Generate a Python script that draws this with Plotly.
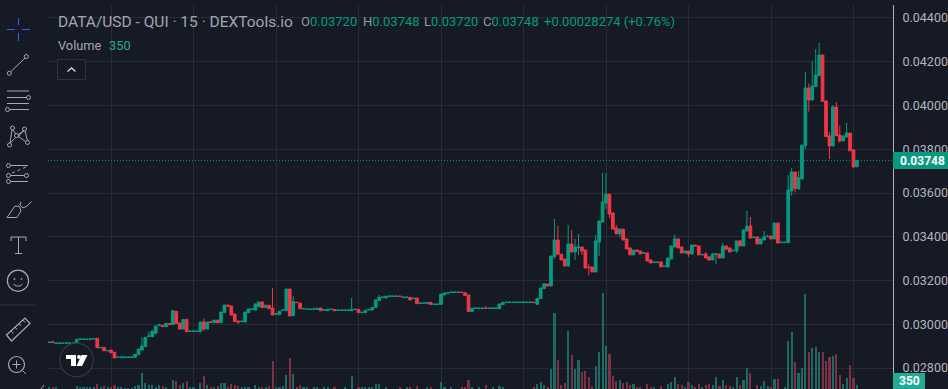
import plotly.graph_objects as go

# prices in units of 0.00001
opens_e5 = [
 2916,2920,2912,2912,2913,2913,2913,2913,2916,2931,
 2931,2931,2931,2932,2936,2892,2894,2878,2882,2872,
 2848,2848,2848,2848,2848,2849,2861,2882,2898,2944,
 2943,2958,2994,2995,2989,3004,2998,3059,3006,2978,
 3022,2967,2967,2967,2966,3010,2978,3011,3007,3019,
 3007,3053,3088,3083,3047,3015,3012,3010,3053,3068,
 3065,3080,3102,3076,3087,3074,3046,3044,3063,3062,
 3161,3039,3101,3097,3070,3068,3068,3068,3068,3074,
 3064,3062,3067,3068,3063,3063,3063,3063,3062,3067,
 3068,3053,3053,3065,3065,3076,3108,3122,3120,3127,
 3127,3127,3129,3122,3122,3123,3118,3120,3095,3095,
 3094,3100,3090,3090,3091,3134,3142,3145,3145,3145,
 3147,3144,3134,3058,3072,3072,3072,3074,3072,3072,
 3072,3071,3090,3099,3099,3099,3099,3099,3099,3099,
 3099,3101,3091,3117,3163,3184,3175,3309,3385,3320,
 3298,3266,3367,3330,3351,3353,3339,3261,3262,3239,
 3376,3467,3554,3595,3509,3440,3413,3435,3390,3349,
 3317,3339,3335,3325,3326,3294,3282,3282,3285,3264,
 3262,3298,3353,3390,3353,3326,3335,3321,3362,3358,
 3317,3321,3308,3294,3320,3321,3303,3358,3349,3336,
 3335,3381,3358,3426,3449,3396,3399,3367,3385,3400,
 3403,3390,3463,3373,3373,3373,3609,3696,3618,3664,
 3816,4080,4025,4086,4136,4231,4021,3861,3815,3993,
 3865,3838,3856,3874,3797,3720,
]
closes_e5 = [
 2918,2917,2914,2914,2914,2914,2914,2914,2931,2932,
 2932,2932,2932,2935,2893,2894,2879,2880,2870,2846,
 2850,2850,2850,2850,2850,2862,2887,2901,2940,2946,
 2968,2992,2996,2989,3004,2998,3062,3003,2978,3022,
 2966,2969,2969,2969,3010,2978,3010,3009,3019,3007,
 3056,3088,3083,3042,3012,3010,3014,3056,3070,3070,
 3093,3102,3076,3087,3071,3042,3048,3059,3065,3161,
 3038,3103,3099,3071,3072,3069,3069,3069,3073,3062,
 3066,3068,3069,3062,3065,3065,3065,3065,3068,3069,
 3053,3055,3064,3068,3077,3111,3123,3124,3128,3129,
 3129,3129,3127,3124,3124,3111,3119,3094,3097,3097,
 3100,3090,3092,3092,3138,3143,3144,3147,3147,3147,
 3145,3131,3058,3073,3074,3074,3074,3072,3074,3074,
 3074,3093,3100,3101,3101,3101,3101,3101,3101,3101,
 3101,3099,3118,3166,3184,3175,3312,3385,3320,3294,
 3266,3367,3330,3353,3353,3335,3257,3259,3239,3381,
 3472,3559,3595,3504,3435,3413,3435,3385,3344,3317,
 3339,3333,3321,3327,3289,3280,3284,3284,3262,3266,
 3303,3358,3390,3349,3326,3335,3321,3362,3358,3317,
 3319,3303,3294,3321,3322,3303,3358,3344,3330,3338,
 3381,3358,3431,3449,3394,3398,3367,3390,3399,3402,
 3390,3463,3371,3375,3375,3614,3696,3621,3670,3819,
 4080,4025,4089,4139,4231,4019,3858,3815,3993,3862,
 3838,3861,3874,3793,3719,3748,
]
# wick ends that extend past the candle body: candle number -> price
high_wicks_e5 = {
 27:2940,29:2965,30:2974,32:3004,45:3027,65:3166,71:3129,77:3076,88:3120,96:3134,
 127:3083,144:3189,147:3481,148:3449,151:3454,152:3431,153:3390,154:3413,157:3275,
 159:3408,161:3692,162:3692,165:3454,182:3408,191:3330,193:3326,194:3326,196:3371,
 201:3385,203:3518,204:3490,208:3426,209:3408,215:3682,216:3714,218:3701,220:4153,
 221:4101,222:4203,223:4258,224:4286,227:3879,228:4002,229:4016,230:3908,232:3920,
}
low_wicks_e5 = {
 32:2992,45:2971,55:3001,142:3088,147:3298,153:3294,154:3317,155:3317,157:3225,
 160:3312,162:3527,163:3486,166:3399,171:3330,186:3308,192:3289,194:3275,197:3339,
 200:3326,216:3588,217:3602,220:3801,221:3972,227:3755,230:3830,234:3716,
}
volumes = [
 88,88,88,0,0,0,0,0,263,146,
 146,88,88,175,438,88,263,88,204,321,
 117,88,29,29,29,233,350,1400,496,350,
 321,204,350,233,88,0,758,700,379,554,
 700,88,88,0,496,1138,321,88,204,263,
 525,496,88,438,350,263,204,88,204,0,
 321,204,204,88,233,2450,204,204,263,1254,
 2713,1342,204,321,204,88,0,204,88,0,
 146,88,0,204,0,0,88,0,1138,0,
 175,88,175,117,175,438,438,0,175,0,
 0,0,88,0,88,175,0,263,0,0,
 175,175,0,0,613,175,0,175,0,0,
 88,175,788,175,0,88,0,350,0,88,
 0,263,175,0,0,0,0,0,0,0,
 0,88,438,613,350,175,1750,6650,2538,350,
 525,5075,2975,1750,2538,1488,1575,1050,263,2013,
 3238,8400,3763,3063,1138,700,788,525,613,350,
 438,175,175,0,438,175,88,0,263,0,
 438,613,1050,438,350,175,613,321,175,438,
 88,350,438,350,1050,263,788,350,263,88,
 1050,350,788,1838,1400,0,350,263,700,263,
 175,875,875,0,88,4200,4988,2363,1400,1838,
 8313,3238,3588,3675,3238,3238,2450,2800,2888,3063,
 1225,438,963,2100,963,350,
]
candle_numbers = list(range(len(opens_e5)))
grid_candles = [18, 42, 66, 90, 114, 138, 162, 186, 210, 234]
price_ticks = [0.028, 0.030, 0.032, 0.034, 0.036, 0.038, 0.040, 0.042, 0.044]
last_price = 0.03748
last_volume = 350

assert len(opens_e5) == len(closes_e5) == len(volumes) == 236, (len(opens_e5), len(closes_e5), len(volumes))

opens = [v / 1e5 for v in opens_e5]
closes = [v / 1e5 for v in closes_e5]
highs = [max(o, c) for o, c in zip(opens, closes)]
lows = [min(o, c) for o, c in zip(opens, closes)]
for k, v in high_wicks_e5.items():
    highs[k] = v / 1e5
for k, v in low_wicks_e5.items():
    lows[k] = v / 1e5

BG = "#161a25"
GRID = "#272b37"
UP = "#089981"
DOWN = "#f23645"
TXT = "#b2b5be"
ICON = "#a6a9b2"
W, H = 948, 389
FONT = "Roboto, sans-serif"
L, R, T, B = 48, 55, 5, 0
PW, PH = W - L - R, H - T - B

vol_colors = ["#1d6a63" if c >= o else "#7c3145" for o, c in zip(opens, closes)]

fig = go.Figure()
fig.add_trace(go.Bar(x=candle_numbers, y=volumes, marker=dict(color=vol_colors, line_width=0),
                     width=0.62, yaxis="y", hoverinfo="skip", showlegend=False))
fig.add_trace(go.Candlestick(
    x=candle_numbers, open=opens, high=highs, low=lows, close=closes, yaxis="y2",
    increasing=dict(line=dict(color=UP, width=1), fillcolor=UP),
    decreasing=dict(line=dict(color=DOWN, width=1), fillcolor=DOWN),
    whiskerwidth=0, hoverinfo="skip", showlegend=False))


shapes = []


def line(x0, y0, x1, y1, color=ICON, width=1, dash=None):
    shapes.append(dict(xref="paper", yref="paper", type="line", x0=(x0 - L) / PW, x1=(x1 - L) / PW,
                       y0=1 - (y0 - T) / PH, y1=1 - (y1 - T) / PH,
                       line=dict(color=color, width=width, dash=dash), layer="above"))


def circ(cx, cy, r, color=ICON, fill=None, width=1):
    shapes.append(dict(xref="paper", yref="paper", type="circle", x0=(cx - r - L) / PW, x1=(cx + r - L) / PW,
                       y0=1 - (cy - r - T) / PH, y1=1 - (cy + r - T) / PH,
                       line=dict(color=color, width=width), fillcolor=fill or "rgba(0,0,0,0)", layer="above"))


def poly(pts, color="rgba(0,0,0,0)", fill=None, width=1, close=True):
    d = "M" + " L".join(f"{(x - L) / PW:.5f},{1 - (y - T) / PH:.5f}" for x, y in pts) + (" Z" if close else "")
    shapes.append(dict(xref="paper", yref="paper", type="path", path=d, line=dict(color=color, width=width),
                       fillcolor=fill or "rgba(0,0,0,0)", layer="above"))


def rect(x0, y0, x1, y1, fill, color=None, width=0):
    shapes.append(dict(xref="paper", yref="paper", type="rect", x0=(x0 - L) / PW, x1=(x1 - L) / PW,
                       y0=1 - (y0 - T) / PH, y1=1 - (y1 - T) / PH,
                       line=dict(color=color or fill, width=width), fillcolor=fill, layer="above"))


# crosshair tool
BLUE = "#2962ff"
line(7, 29.5, 15, 29.5, BLUE); line(22, 29.5, 30, 29.5, BLUE)
line(18.5, 18, 18.5, 25, BLUE); line(18.5, 33, 18.5, 41, BLUE)
# trend line
circ(9.3, 73.3, 2); circ(26.3, 56.5, 2); line(11, 71.5, 25, 58)
# parallel lines
line(7, 91, 29, 91); line(7, 97.5, 26.5, 97.5); circ(28.5, 97.5, 2)
line(7, 103.5, 29, 103.5); line(9.5, 109.5, 29, 109.5); circ(7.5, 109.5, 2)
# pattern
for c in [(12.5, 128), (24.5, 129), (16.5, 135.5), (9.5, 145), (27.5, 142.5)]:
    circ(c[0], c[1], 2)
line(12, 130, 10, 143); line(13, 130, 16, 134); line(24, 131, 18, 134.5)
line(25, 131, 27.5, 140.5); line(18.5, 136.5, 25.5, 141.5); line(15.5, 137.5, 10.5, 143)
line(18, 137.5, 23, 130.5)
# forecast
line(10.5, 165.5, 28, 165.5); circ(8.5, 165.5, 2)
line(10.5, 175.5, 24.5, 175.5); circ(8.5, 175.5, 2); circ(26.5, 175.5, 2)
line(10.5, 181.5, 28, 181.5); circ(8.5, 181.5, 2)
line(12, 173, 26, 167, dash="dot")
# brush
poly([(7, 217.5), (17, 217.5), (21, 211), (19.5, 206.5), (15, 206), (7, 217.5)], color=ICON)
poly([(21, 202), (20, 205), (23, 208), (27, 206), (31.5, 201.5)], color=ICON, close=False)
# T tool
line(11, 237, 26, 237); line(18.5, 237, 18.5, 253.5); line(15, 253.5, 22, 253.5)
line(11, 237, 11, 241); line(26, 237, 26, 241)
# smiley
circ(18, 280.7, 10.6, width=1.2); circ(14.5, 279, 0.6); circ(21.5, 279, 0.6)
poly([(13.5, 284), (16, 286), (20, 286), (22.5, 284)], color=ICON, close=False)
# separator
line(0, 305, 36, 305, color="#2e323e")
# ruler
poly([(6.5, 335), (25, 318), (30, 323.5), (11.5, 341)], color=ICON, width=1.2)
for a, b in [((11, 331), (13.5, 333.5)), ((15, 327), (17, 329.5)), ((19, 323.5), (21, 326)), ((23, 320), (25, 322.5))]:
    line(a[0], a[1], b[0], b[1])
# zoom tool
circ(16.5, 364.5, 8, width=1.2); line(12.5, 364.5, 20.5, 364.5); line(16.5, 360.5, 16.5, 368.5)
line(22.5, 370.5, 26, 374)
line(41, 389, 44, 385)
# collapse button
rect(57.5, 59.5, 85.5, 79.5, BG, "#2e323e", 1)
poly([(67.5, 71.5), (71.5, 68), (75.5, 71.5)], color="#d1d4dc", width=1.4, close=False)
# TradingView badge
circ(76.5, 360, 16.8, color="#363a45", fill=BG, width=1.2)
poly([(66, 355), (76, 355), (76, 366), (71, 366), (71, 359), (66, 359)], fill="#ffffff", width=0)
circ(79, 357, 2, color="#ffffff", fill="#ffffff", width=0)
poly([(81.5, 355), (87.5, 355), (82, 366), (76.5, 366)], fill="#ffffff", width=0)
# last price line
shapes.append(dict(type="line", xref="paper", x0=0, x1=1, yref="y2", y0=last_price, y1=last_price,
                   line=dict(color=UP, width=1, dash="1px,2px"), layer="above"))
# price labels
rect(893, 152, 948, 169, UP)
rect(893, 373, 925, 389, "#22ab94")


def text(x, y, s, size=13, color=TXT, anchor="left", bold=False):
    return dict(xref="paper", yref="paper", x=(x - L) / PW, y=1 - (y - T) / PH, text=s, showarrow=False,
                xanchor=anchor, yanchor="middle", align=anchor, borderpad=0,
                font=dict(family=FONT, size=size, color=color, weight=700 if bold else 400))


def seg(label, value):
    return f'<span style="color:#9598a1">{label}</span><span style="color:{UP}">{value}</span>'


annotations = [
    text(57, 21.5, "DATA/USD - QUI · 15 · DEXTools.io", size=15.5, color="#a3a6af"),
    text(300, 21.5, seg("O", "0.03720"), size=13),
    text(361.5, 21.5, seg("H", "0.03748"), size=13),
    text(423, 21.5, seg("L", "0.03720"), size=13),
    text(482, 21.5, seg("C", "0.03748"), size=13),
    text(543, 21.5, seg("", "+0.00028274 (+0.76%)"), size=13),
    text(57, 45.5, "Volume", size=12.8, color="#a3a6af"),
    text(108, 45.5, f"{last_volume}", size=12.8, color="#22ab94"),
    text(922, 161, f"{last_price:.5f}", size=12, color="#ffffff", anchor="center", bold=True),
    text(909, 381, f"{last_volume}", size=12, color="#ffffff", anchor="center", bold=True),
]

# candle number range placed so that grid lines land on the reference positions
x0 = 18 + (48 - 111.0) / 3.4375
x1 = 18 + (893 - 111.0) / 3.4375

fig.update_layout(
    width=W, height=H, autosize=False,
    margin=dict(l=L, r=R, t=T, b=B, pad=0),
    paper_bgcolor=BG, plot_bgcolor=BG,
    showlegend=False, bargap=0, boxgap=0.18, boxgroupgap=0.05, hovermode=False,
    font=dict(family=FONT, color=TXT),
    xaxis=dict(range=[x0, x1], tickmode="array", tickvals=grid_candles, showticklabels=False,
               showgrid=True, gridcolor=GRID, gridwidth=1, zeroline=False, ticks="",
               rangeslider=dict(visible=False), showline=False),
    yaxis=dict(range=[0, 33600], visible=False, showgrid=False, zeroline=False, fixedrange=True),
    yaxis2=dict(range=[0.02704, 0.044594], overlaying="y", side="right",
                tickmode="array", tickvals=price_ticks, ticktext=[f"{v:.5f}" for v in price_ticks],
                tickfont=dict(family=FONT, size=12.5, color=TXT), ticks="outside", ticklen=6,
                tickcolor=BG, showgrid=True, gridcolor=GRID, gridwidth=1, zeroline=False,
                showline=True, linecolor="#b2b5be", linewidth=1),
    shapes=shapes, annotations=annotations,
)
fig.write_html("out.html", config=dict(displayModeBar=False, responsive=False),
               post_script="document.body.style.margin='0';document.documentElement.style.overflow='hidden';document.documentElement.style.background='#161a25';")
